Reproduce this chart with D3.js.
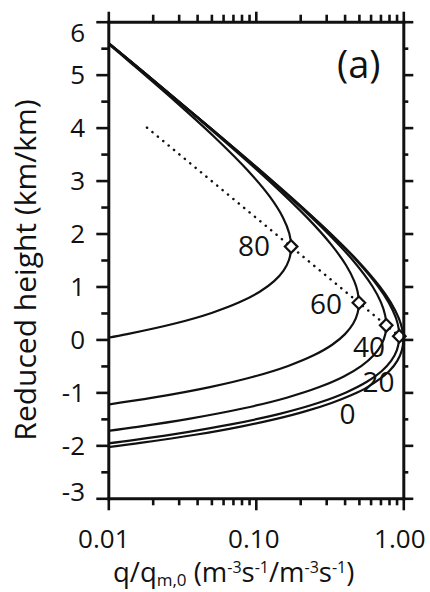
<!DOCTYPE html>
<html>
<head>
<meta charset="utf-8">
<script src="https://cdn.jsdelivr.net/npm/d3@7"></script>
<style>
  body { margin: 0; background: #fff; }
  svg text { font-family: "Open Sans", "Noto Sans", sans-serif; fill: #111; }
</style>
</head>
<body>
<svg id="chart" width="430" height="592"></svg>
<script>
// Chapman production profiles q/q_m,0 versus reduced height, one per solar zenith angle.
// Each profile is a list of [q, z] pairs.
const zenithLabels = ["0", "20", "40", "60", "80"];

const profileChi0 = [
  [0.00955, -2.04], [0.01693, -1.95], [0.0388, -1.8], [0.0775, -1.65], [0.1378, -1.5],
  [0.2215, -1.35], [0.3262, -1.2], [0.4459, -1.05], [0.5714, -0.9], [0.8008, -0.6],
  [0.9123, -0.4], [0.9788, -0.2], [1.0, 0], [0.9815, 0.2], [0.9321, 0.4], [0.8215, 0.7],
  [0.6922, 1.0], [0.4853, 1.5], [0.3213, 2.0], [0.2055, 2.5], [0.1288, 3.0], [0.0489, 4.0],
  [0.0182, 5.0], [0.00906, 5.7]
];
const profileChi20 = [
  [0.00946, -1.97], [0.01477, -1.9], [0.03426, -1.75], [0.0692, -1.6], [0.1473, -1.4],
  [0.2636, -1.2], [0.4096, -1.0], [0.5664, -0.8], [0.7124, -0.6], [0.8289, -0.4],
  [0.9050, -0.2], [0.9378, 0], [0.9397, 0.062], [0.9312, 0.2], [0.8929, 0.4], [0.7957, 0.7],
  [0.6760, 1.0], [0.4784, 1.5], [0.3185, 2.0], [0.2045, 2.5], [0.1284, 3.0], [0.0488, 4.0],
  [0.01819, 5.0], [0.00906, 5.7]
];
const profileChi40 = [
  [0.00855, -1.75], [0.01581, -1.65], [0.03506, -1.5], [0.0829, -1.3], [0.1618, -1.1],
  [0.2696, -0.9], [0.3950, -0.7], [0.5208, -0.5], [0.6300, -0.3], [0.7099, -0.1],
  [0.7549, 0.1], [0.7660, 0.266], [0.7541, 0.45], [0.7059, 0.7], [0.6187, 1.0],
  [0.4533, 1.5], [0.3083, 2.0], [0.2004, 2.5], [0.1268, 3.0], [0.0486, 4.0],
  [0.01816, 5.0], [0.00905, 5.7]
];
const profileChi60 = [
  [0.00882, -1.25], [0.02007, -1.1], [0.04883, -0.9], [0.09755, -0.7], [0.1657, -0.5],
  [0.2467, -0.3], [0.3295, -0.1], [0.4026, 0.1], [0.4577, 0.3], [0.4901, 0.5],
  [0.5, 0.693], [0.4901, 0.9], [0.4650, 1.1], [0.4093, 1.4], [0.3228, 1.8],
  [0.2230, 2.3], [0.1225, 3.0], [0.0480, 4.0], [0.01807, 5.0], [0.00903, 5.7]
];
const profileChi80 = [
  [0.00858, 0], [0.01342, 0.1], [0.02827, 0.3], [0.05014, 0.5], [0.0773, 0.7],
  [0.1063, 0.9], [0.1331, 1.1], [0.1542, 1.3], [0.1678, 1.5], [0.1736, 1.75],
  [0.1687, 2.0], [0.1530, 2.3], [0.1241, 2.7], [0.08762, 3.2], [0.05346, 3.8],
  [0.02833, 4.5], [0.01452, 5.2], [0.00892, 5.7]
];

// Peak of each profile (20, 40, 60, 80 degrees)
const peakQ = [0.9397, 0.7660, 0.5, 0.1736];
const peakZ = [0.062, 0.266, 0.693, 1.753];

// Locus of the peaks
const locusQ = [0.0183, 1.0];
const locusZ = [4.0, 0.0];

// Axis ticks
const xMajorTicks = [0.01, 0.1, 1];
const xTickLabels = ["0.01", "0.10", "1.00"];
const xMinorTicks = [0.02, 0.03, 0.04, 0.05, 0.06, 0.07, 0.08, 0.09, 0.2, 0.3, 0.4, 0.5, 0.6, 0.7, 0.8, 0.9];
const yMajorTicks = [-3, -2, -1, 0, 1, 2, 3, 4, 5, 6];
const yTickLabels = ["-3", "-2", "-1", "0", "1", "2", "3", "4", "5", "6"];
const yMinorTicks = [-2.5, -1.5, -0.5, 0.5, 1.5, 2.5, 3.5, 4.5, 5.5];

// ---------------------------------------------------------------------------
const svg = d3.select("#chart");
const plotLeft = 108.3, plotRight = 403.3, plotTop = 21.7, plotBottom = 498.3;

const x = d3.scaleLog().domain([0.01, 1]).range([plotLeft, plotRight]);
const y = d3.scaleLinear().domain([-3, 6]).range([plotBottom, plotTop]);

svg.append("defs").append("clipPath").attr("id", "plotClip")
  .append("rect").attr("x", plotLeft).attr("y", plotTop)
  .attr("width", plotRight - plotLeft).attr("height", plotBottom - plotTop);

const plot = svg.append("g").attr("clip-path", "url(#plotClip)");

// dotted peak locus
plot.append("path")
  .datum(locusQ.map((q, i) => [q, locusZ[i]]))
  .attr("d", d3.line().x(d => x(d[0])).y(d => y(d[1])))
  .attr("fill", "none").attr("stroke", "#111")
  .attr("stroke-width", 2.5).attr("stroke-linecap", "round")
  .attr("stroke-dasharray", "0.1 6.9");

// profiles
const line = d3.line().x(d => x(d[0])).y(d => y(d[1])).curve(d3.curveCatmullRom.alpha(0.5));
[profileChi0, profileChi20, profileChi40, profileChi60, profileChi80].forEach(p => {
  plot.append("path").datum(p).attr("d", line)
    .attr("fill", "none").attr("stroke", "#111").attr("stroke-width", 2.2)
    .attr("stroke-linejoin", "round");
});

// peak markers
const dsz = 6.3;
svg.append("g").selectAll("path").data(peakQ.map((q, i) => [q, peakZ[i]])).join("path")
  .attr("d", d => {
    const cx = x(d[0]), cy = y(d[1]);
    return `M${cx},${cy - dsz}L${cx + dsz},${cy}L${cx},${cy + dsz}L${cx - dsz},${cy}Z`;
  })
  .attr("fill", "#fff").attr("stroke", "#111").attr("stroke-width", 2.2);

// curve labels (anchor in data coordinates)
const labelPos = { "80": [0.0972, 1.568], "60": [0.299, 0.472], "40": [0.5855, -0.34], "20": [0.679, -1.0], "0": [0.419, -1.606] };
svg.append("g").selectAll("text").data(zenithLabels).join("text")
  .attr("x", d => x(labelPos[d][0])).attr("y", d => y(labelPos[d][1]))
  .attr("text-anchor", "middle").attr("font-size", 28).text(d => d);

// axes
function styleAxis(g) {
  g.select(".domain").attr("stroke", "#111").attr("stroke-width", 3).attr("stroke-linecap", "square");
  g.selectAll(".tick line").attr("stroke", "#111").attr("stroke-width", 2.6);
}
function addAxis(axisFn, scale, translate, majors, minors, majorLen, minorLen, fmt) {
  const gMinor = svg.append("g").attr("transform", translate)
    .call(axisFn(scale).tickValues(minors).tickSize(minorLen).tickSizeOuter(0).tickFormat(""));
  gMinor.select(".domain").remove();
  gMinor.selectAll(".tick line").attr("stroke", "#111").attr("stroke-width", 2.6);
  const g = svg.append("g").attr("transform", translate)
    .call(axisFn(scale).tickValues(majors).tickSize(majorLen).tickSizeOuter(0).tickFormat(fmt || ""));
  styleAxis(g);
  return g;
}

const gBottom = addAxis(d3.axisBottom, x, `translate(0,${plotBottom})`, xMajorTicks, xMinorTicks, 12, 7,
  (d, i) => xTickLabels[i]);
const xLabelShift = [-5, -2.5, -4];
gBottom.selectAll(".tick text")
  .attr("font-family", null).attr("font-size", 26).attr("fill", "#111")
  .attr("dy", 0).attr("y", 49.7)
  .attr("x", (d, i) => xLabelShift[i]);

addAxis(d3.axisTop, x, `translate(0,${plotTop})`, xMajorTicks, xMinorTicks, 10, 7);

const gLeft = addAxis(d3.axisLeft, y, `translate(${plotLeft},0)`, yMajorTicks, yMinorTicks, 12, 7,
  (d, i) => yTickLabels[i]);
const yLabelShift = { "6": 11, "-3": -7 };
gLeft.selectAll(".tick text")
  .attr("font-family", null).attr("font-size", 26).attr("fill", "#111")
  .attr("x", -23.3).attr("dy", "0.35em")
  .attr("y", d => yLabelShift[d] || 0);

addAxis(d3.axisRight, y, `translate(${plotRight},0)`, yMajorTicks, yMinorTicks, 10, 5);

// panel tag
svg.append("text").attr("x", 337).attr("y", 78).attr("font-size", 38).text("(a)");

// axis titles
const xt = svg.append("text").attr("x", 113).attr("y", 582).attr("font-size", 27.5);
xt.append("tspan").text("q/q");
xt.append("tspan").attr("font-size", 17).attr("dy", 4).text("m,0");
xt.append("tspan").attr("dy", -4).text(" (m");
xt.append("tspan").attr("font-size", 16).attr("dy", -9).text("-3");
xt.append("tspan").attr("dy", 9).text("s");
xt.append("tspan").attr("font-size", 16).attr("dy", -9).text("-1");
xt.append("tspan").attr("dy", 9).text("/m");
xt.append("tspan").attr("font-size", 16).attr("dy", -9).text("-3");
xt.append("tspan").attr("dy", 9).text("s");
xt.append("tspan").attr("font-size", 16).attr("dy", -9).text("-1");
xt.append("tspan").attr("dy", 9).text(")");

svg.append("text")
  .attr("transform", "translate(36,270) rotate(-90)")
  .attr("text-anchor", "middle").attr("font-size", 30)
  .text("Reduced height (km/km)");
</script>
</body>
</html>
